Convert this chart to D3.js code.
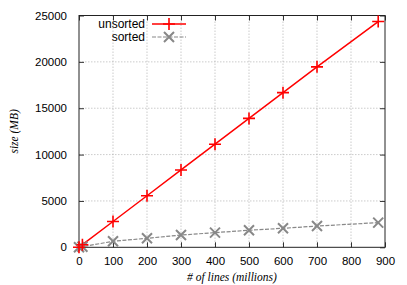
<!DOCTYPE html>
<html><head><meta charset="utf-8">
<script src="https://cdn.jsdelivr.net/npm/d3@7"></script>
<style>body{margin:0;background:#fff}</style>
</head><body><svg id="c" width="407" height="285"></svg>
<script>
const unsortedX = [0, 10, 100, 200, 300, 400, 500, 600, 700, 880];
const unsortedY = [0, 280, 2780, 5560, 8340, 11120, 13900, 16680, 19460, 24350];
const sortedX = [0, 10, 100, 200, 300, 400, 500, 600, 700, 880];
const sortedY = [0, 60, 650, 970, 1320, 1580, 1840, 2050, 2290, 2660];
const xTicks = [0,100,200,300,400,500,600,700,800,900];
const yTicks = [0,5000,10000,15000,20000,25000];
const seriesNames = ["unsorted","sorted"];

const svg = d3.select("#c");
const m = {l:79, r:385, t:15.5, b:247.3};
const x = d3.scaleLinear().domain([0,900]).range([m.l,m.r]);
const y = d3.scaleLinear().domain([0,25000]).range([m.b,m.t]);
const font = "'Liberation Sans', Arial, sans-serif";

// grid
const g = svg.append("g");
g.selectAll(".gx").data(xTicks.slice(1,-1)).enter().append("line")
 .attr("x1",d=>x(d)).attr("x2",d=>x(d)).attr("y1",m.t).attr("y2",m.b)
 .attr("stroke","#aaa").attr("stroke-width",0.6).attr("stroke-dasharray","1.5,1.5");
g.selectAll(".gy").data(yTicks.slice(1,-1)).enter().append("line")
 .attr("y1",d=>y(d)).attr("y2",d=>y(d)).attr("x1",m.l).attr("x2",m.r)
 .attr("stroke","#aaa").attr("stroke-width",0.6).attr("stroke-dasharray","1.5,1.5");

// axes
const ax = (gen, tr) => svg.append("g").attr("transform",tr).call(gen);
const styleAxis = sel => { sel.select(".domain").remove(); sel.selectAll("line").attr("stroke","#333");
  sel.selectAll("text").attr("font-family",font).attr("font-size",11.5).attr("fill","#000"); };
ax(d3.axisBottom(x).tickValues(xTicks).tickSize(-5).tickPadding(9.5).tickFormat(d3.format("d")), `translate(0,${m.b})`).call(styleAxis);
ax(d3.axisTop(x).tickValues(xTicks).tickSize(-5).tickFormat(""), `translate(0,${m.t})`).call(styleAxis);
ax(d3.axisLeft(y).tickValues(yTicks).tickSize(-5).tickPadding(12).tickFormat(d3.format("d")), `translate(${m.l},0)`).call(styleAxis);
ax(d3.axisRight(y).tickValues(yTicks).tickSize(-5).tickFormat(""), `translate(${m.r},0)`).call(styleAxis);

// border
svg.append("rect").attr("x",m.l).attr("y",m.t).attr("width",m.r-m.l).attr("height",m.b-m.t)
 .attr("fill","none").attr("stroke","#222").attr("stroke-width",1);

// series
const u = unsortedX.map((d,i)=>[d,unsortedY[i]]);
const s = sortedX.map((d,i)=>[d,sortedY[i]]);
const line = d3.line().x(d=>x(d[0])).y(d=>y(d[1]));
svg.append("path").datum(s).attr("d",line).attr("fill","none").attr("stroke","#888").attr("stroke-width",1.2).attr("stroke-dasharray","4,1.5");
svg.append("path").datum(u).attr("d",line).attr("fill","none").attr("stroke","#f00").attr("stroke-width",1.5);

const plus = (sel, cx, cy) => sel.append("path").attr("d",`M${cx-6},${cy}H${cx+6}M${cx},${cy-6}V${cy+6}`).attr("stroke","#f00").attr("stroke-width",1.6);
const cross = (sel, cx, cy) => sel.append("path").attr("d",`M${cx-5},${cy-5}L${cx+5},${cy+5}M${cx-5},${cy+5}L${cx+5},${cy-5}`).attr("stroke","#888").attr("stroke-width",2);
s.forEach(d=>cross(svg, x(d[0]), y(d[1])));
u.forEach(d=>plus(svg, x(d[0]), y(d[1])));

// legend
const lg = svg.append("g");
lg.append("text").attr("x",145).attr("y",28).attr("text-anchor","end").attr("font-family",font).attr("font-size",12).text(seriesNames[0]);
lg.append("text").attr("x",145).attr("y",41).attr("text-anchor","end").attr("font-family",font).attr("font-size",12).text(seriesNames[1]);
lg.append("line").attr("x1",152).attr("x2",186).attr("y1",24).attr("y2",24).attr("stroke","#f00").attr("stroke-width",1.5);
plus(lg,169,24);
lg.append("line").attr("x1",152).attr("x2",186).attr("y1",37).attr("y2",37).attr("stroke","#888").attr("stroke-width",1.2).attr("stroke-dasharray","4,1.5");
cross(lg,169,37);

// axis labels
const serif = "'Liberation Serif','DejaVu Serif',serif";
svg.append("text").attr("x",(m.l+m.r)/2).attr("y",281).attr("text-anchor","middle").attr("font-family",serif).attr("font-style","italic").attr("font-size",11.5).text("# of lines (millions)");
svg.append("text").attr("transform",`translate(18,${(m.t+m.b)/2}) rotate(-90)`).attr("text-anchor","middle").attr("font-family",serif).attr("font-style","italic").attr("font-size",11.5).text("size (MB)");
</script></body></html>
